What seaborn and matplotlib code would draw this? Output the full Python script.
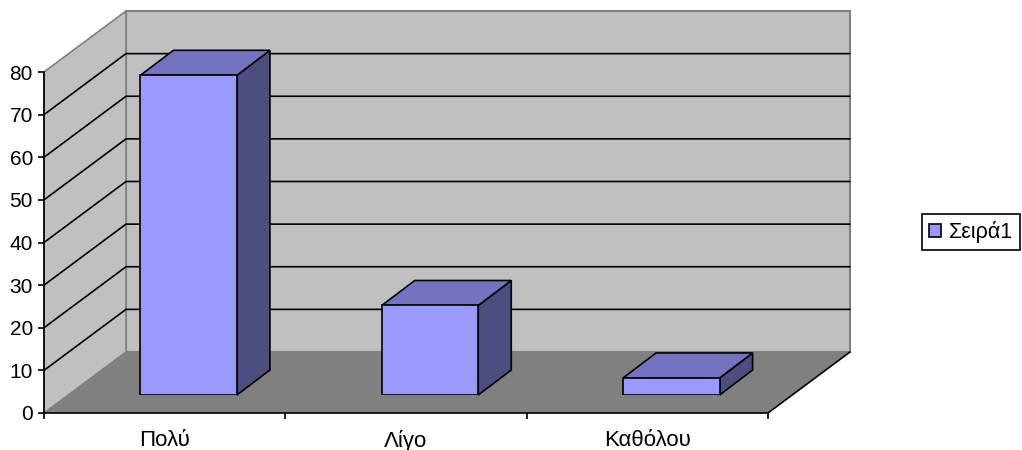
import pandas as pd
import seaborn as sns
from matplotlib import pyplot as plt

categories = ['Πολύ', 'Λίγο', 'Καθόλου']
values = [75, 21, 4]
series_name = 'Σειρά1'
y_ticks = [0, 10, 20, 30, 40, 50, 60, 70, 80]

W, H = 1022, 450
WALL = '#C0C0C0'
FLOOR = '#808080'
FRONT = '#9999FF'
TOP = '#7373BF'
SIDE = '#4D4D80'

sns.set_style('white')
plt.rcParams['font.family'] = ['Liberation Sans', 'DejaVu Sans']
plt.rcParams['font.size'] = 16
plt.rcParams['text.color'] = 'black'


def pixel_axes(fig, left, bottom, width, height):
    # axes placed by reference pixels, bottom counted from the top of the image
    return fig.add_axes([left / W, 1 - bottom / H, width / W, height / H])


fig = plt.figure(figsize=(W / 100, H / 100), dpi=100)

# front plane of the box, carries the scales and the tick labels
ax = pixel_axes(fig, 44, 413, 724, 341)
ax.set_xlim(-0.5, 2.5)
ax.set_ylim(y_ticks[0], y_ticks[-1])
ax.patch.set_visible(False)

unit_x = 724 / 3
unit_y = 341 / 80
wall_dx = 82 / unit_x
wall_dy = 61 / unit_y

x0, x1 = ax.get_xlim()
y0, y1 = ax.get_ylim()

# back wall, left wall, floor
ax.fill([x0 + wall_dx, x1 + wall_dx, x1 + wall_dx, x0 + wall_dx],
        [y0 + wall_dy, y0 + wall_dy, y1 + wall_dy, y1 + wall_dy],
        facecolor=WALL, edgecolor=FLOOR, linewidth=1.5, clip_on=False, zorder=1)
ax.fill([x0, x0 + wall_dx, x0 + wall_dx, x0],
        [y0, y0 + wall_dy, y1 + wall_dy, y1],
        facecolor=WALL, edgecolor=FLOOR, linewidth=1.2, clip_on=False, zorder=1)
ax.fill([x0, x1, x1 + wall_dx, x0 + wall_dx],
        [y0, y0, y0 + wall_dy, y0 + wall_dy],
        facecolor=FLOOR, edgecolor='none', clip_on=False, zorder=2)
ax.plot([x1, x1 + wall_dx], [y0, y0 + wall_dy], color='black', lw=1.2, clip_on=False, zorder=3)

# gridlines run along the left wall and across the back
for t in y_ticks[1:-1]:
    ax.plot([x0, x0 + wall_dx, x1 + wall_dx], [t, t + wall_dy, t + wall_dy],
            color='black', lw=1.2, clip_on=False, zorder=3)

ax.set_yticks(y_ticks)
ax.set_xticks([-0.5, 0.5, 1.5, 2.5])
ax.set_xticklabels([])
ax.set_xticks([0, 1, 2], minor=True)
ax.set_xticklabels(categories, minor=True)
ax.tick_params(axis='y', which='major', left=True, length=4, width=1.2, color='black', pad=4,
               labelsize=15, labelcolor='black')
ax.tick_params(axis='x', which='major', bottom=True, length=4, width=1.2, color='black')
ax.tick_params(axis='x', which='minor', bottom=False, length=0, pad=12,
               labelsize=16, labelcolor='black')
ax.grid(False)
for name in ['top', 'right']:
    ax.spines[name].set_visible(False)
for name in ['left', 'bottom']:
    ax.spines[name].set_visible(True)
    ax.spines[name].set_color('black')
    ax.spines[name].set_linewidth(1.2)
    ax.spines[name].set_zorder(4)

# bars stand a little way into the floor, so they get their own shifted axes
bars_ax = pixel_axes(fig, 68, 395, 724, 341)
bars_ax.patch.set_visible(False)
df = pd.DataFrame({'answer': categories, 'value': values, 'series': series_name})
sns.barplot(data=df, x='answer', y='value', hue='series', palette=[FRONT], width=0.4,
            edgecolor='black', linewidth=1.2, saturation=1, ax=bars_ax)
bars_ax.set_xlim(-0.5, 2.5)
bars_ax.set_ylim(y_ticks[0], y_ticks[-1])
bars_ax.set_axis_off()

bar_dx = 33 / unit_x
bar_dy = 25 / unit_y
for bar in bars_ax.containers[0]:
    left = bar.get_x()
    right = left + bar.get_width()
    top = bar.get_height()
    bars_ax.fill([right, right + bar_dx, right + bar_dx, right],
                 [0, bar_dy, top + bar_dy, top],
                 facecolor=SIDE, edgecolor='black', linewidth=1.2, clip_on=False, zorder=1)
    bars_ax.fill([left, right, right + bar_dx, left + bar_dx],
                 [top, top, top + bar_dy, top + bar_dy],
                 facecolor=TOP, edgecolor='black', linewidth=1.2, clip_on=False, zorder=1)
    bar.set_zorder(2)

handles, labels = bars_ax.get_legend_handles_labels()
leg = bars_ax.legend(handles, labels, loc='center left', bbox_to_anchor=(922 / W, 1 - 232 / H),
                     bbox_transform=fig.transFigure, frameon=True, fancybox=False, framealpha=1,
                     edgecolor='black', fontsize=15.5, handlelength=0.58, handleheight=0.58,
                     handletextpad=0.35, borderpad=0.32, borderaxespad=0)
leg.get_frame().set_linewidth(1.2)

fig.savefig('out.png', dpi=100)
